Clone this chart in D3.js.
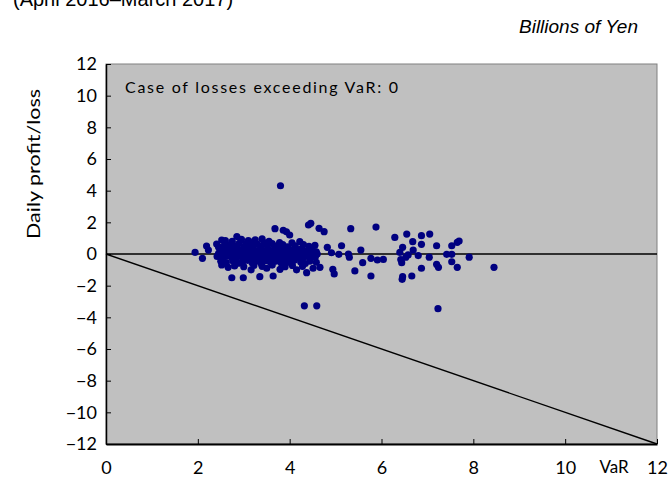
<!DOCTYPE html>
<html>
<head>
<meta charset="utf-8">
<script src="https://cdn.jsdelivr.net/npm/d3@7"></script>
<style>
  html, body { margin: 0; padding: 0; background: #ffffff; }
  svg { display: block; }
</style>
</head>
<body>
<svg id="chart" width="669" height="477"></svg>
<script>
// ---- data ----
const titleText = "(April 2016\u2013March 2017)";
const unitText = "Billions of Yen";
const yAxisLabel = "Daily profit/loss";
const xAxisLabel = "VaR";
const noteText = "Case of losses exceeding VaR: 0";
const xTicks = [0, 2, 4, 6, 8, 10, 12];
const yTicks = [-12, -10, -8, -6, -4, -2, 0, 2, 4, 6, 8, 10, 12];

// sparse / outlying observations [VaR, daily P/L]
const sparsePoints = [
  [1.94,0.10],[2.10,-0.27],[2.19,0.50],[2.23,0.25],[2.41,0.63],[2.52,0.88],[2.85,1.10],
  [3.80,4.31],[3.68,1.60],[3.86,1.50],[3.93,1.40],[4.00,1.20],[4.41,1.83],[4.46,1.94],
  [4.64,1.62],[4.75,1.41],[4.22,0.78],[2.74,-1.50],[2.99,-1.50],[3.35,-1.43],[3.64,-1.39],
  [3.16,-1.00],[3.50,-0.90],[3.79,-0.97],[4.15,-1.00],[4.37,-1.18],[4.51,-0.90],
  [2.52,-0.69],[2.66,-0.84],[4.66,-0.84],
  [5.33,1.60],[5.88,1.70],[6.29,1.05],[6.55,1.26],[6.68,0.78],[6.87,1.16],[6.87,0.61],
  [7.05,1.26],[6.46,0.42],[6.69,0.25],[5.13,0.52],[4.82,0.42],[4.91,0.08],[5.07,-0.02],
  [5.28,0.00],[5.30,-0.20],[5.55,0.25],[5.59,-0.55],[5.77,-0.27],[5.91,-0.38],[6.04,-0.34],
  [4.94,-0.97],[4.97,-1.26],[5.42,-1.07],[5.77,-1.39],[6.46,-1.43],[6.66,-1.39],[6.87,-0.90],
  [6.44,-0.55],[6.53,-0.20],[6.58,-0.06],[6.80,-0.10],[7.04,-0.20],[6.40,0.10],[6.42,-0.35],
  [7.20,0.52],[7.53,0.52],[7.65,0.74],[7.69,0.82],[7.42,-0.02],[7.53,-0.02],[7.91,-0.20],
  [7.53,-0.49],[7.20,-0.65],[7.24,-0.84],[7.65,-0.84],[8.45,-0.84],
  [4.32,-3.27],[4.59,-3.27],[7.23,-3.45],[6.45,-1.60]
];

// dense cluster of observations [VaR, daily P/L]
const clusterPoints = [
  [2.60,0.85],[2.75,0.80],[2.95,0.92],[3.10,0.85],[3.25,0.90],[3.40,0.95],[3.55,0.80],[3.20,0.75],[3.45,0.70],[3.05,0.65],
  [2.45,0.45],[2.58,0.55],[2.70,0.60],[2.82,0.52],[2.90,0.68],[3.00,0.45],[3.15,0.55],[3.30,0.62],[3.38,0.48],[3.50,0.58],
  [3.62,0.66],[3.72,0.50],[3.85,0.60],[3.95,0.45],[4.05,0.70],[4.12,0.52],[4.30,0.60],[4.42,0.48],[4.55,0.55],[3.78,0.72],[2.65,0.40],
  [2.48,0.20],[2.55,0.30],[2.62,0.15],[2.72,0.35],[2.80,0.22],[2.88,0.30],[2.96,0.18],[3.04,0.32],[3.12,0.25],[3.20,0.38],
  [3.28,0.20],[3.36,0.30],[3.44,0.15],[3.52,0.35],[3.60,0.22],[3.68,0.30],[3.76,0.18],[3.84,0.36],[3.92,0.24],[4.00,0.30],
  [4.08,0.16],[4.18,0.28],[4.26,0.34],[4.36,0.20],[4.48,0.26],[4.58,0.14],
  [2.45,0.02],[2.58,-0.02],[2.66,0.06],[2.78,0.00],[2.86,0.08],[2.94,-0.04],[3.02,0.05],[3.10,0.00],[3.18,0.08],[3.26,-0.03],
  [3.34,0.04],[3.42,0.00],[3.50,0.07],[3.58,-0.02],[3.66,0.03],[3.74,0.08],[3.82,-0.02],[3.90,0.05],[3.98,0.00],[4.06,0.06],
  [4.14,-0.04],[4.22,0.02],[4.30,0.08],[4.40,-0.02],[4.52,0.04],[4.60,0.00],
  [2.42,-0.15],[2.54,-0.25],[2.64,-0.12],[2.74,-0.22],[2.84,-0.30],[2.92,-0.14],[3.00,-0.24],[3.08,-0.10],[3.16,-0.28],[3.24,-0.16],
  [3.32,-0.22],[3.40,-0.30],[3.48,-0.12],[3.56,-0.20],[3.64,-0.26],[3.72,-0.14],[3.80,-0.22],[3.88,-0.30],[3.96,-0.16],[4.04,-0.25],
  [4.12,-0.12],[4.20,-0.20],[4.28,-0.30],[4.38,-0.15],[4.46,-0.24],[4.56,-0.18],
  [2.50,-0.45],[2.62,-0.55],[2.76,-0.42],[2.88,-0.58],[2.98,-0.48],[3.08,-0.40],[3.18,-0.55],[3.28,-0.45],[3.38,-0.60],[3.46,-0.42],
  [3.58,-0.52],[3.70,-0.45],[3.82,-0.58],[3.92,-0.44],[4.02,-0.55],[4.10,-0.40],[4.24,-0.50],[4.34,-0.60],[4.44,-0.45],[4.58,-0.52],
  [2.80,-0.75],[3.00,-0.80],[3.22,-0.72],[3.40,-0.78],[3.62,-0.70],[3.90,-0.80],[4.06,-0.72],[4.28,-0.78]
];

// ---- layout ----
const svg = d3.select("#chart");
const plotLeft = 106, plotRight = 657, plotTop = 64, plotBottom = 444;

const x = d3.scaleLinear().domain([0, 12]).range([plotLeft, plotRight]);
const y = d3.scaleLinear().domain([-12, 12]).range([plotBottom, plotTop]);

// plot area
svg.append("rect")
  .attr("x", plotLeft).attr("y", plotTop)
  .attr("width", plotRight - plotLeft).attr("height", plotBottom - plotTop)
  .attr("fill", "#c0c0c0")
  .attr("stroke", "#808080").attr("stroke-width", 1);

// reference lines
svg.append("line")
  .attr("x1", x(0)).attr("x2", x(12)).attr("y1", y(0)).attr("y2", y(0))
  .attr("stroke", "#000").attr("stroke-width", 1.4);
svg.append("line")
  .attr("x1", x(0)).attr("x2", x(12)).attr("y1", y(0)).attr("y2", y(-12))
  .attr("stroke", "#000").attr("stroke-width", 1.4);

// points
const allPoints = sparsePoints.concat(clusterPoints);
svg.append("g").selectAll("circle")
  .data(allPoints)
  .join("circle")
  .attr("cx", d => x(d[0]))
  .attr("cy", d => y(d[1]))
  .attr("r", 3.6)
  .attr("fill", "#000080");

// axes
const fontFam = "Lato, 'Open Sans', sans-serif";
const yAxis = d3.axisLeft(y).tickValues(yTicks).tickFormat(d3.format("d"))
  .tickSizeInner(-5).tickSizeOuter(0).tickPadding(9);
const gy = svg.append("g").attr("transform", `translate(${plotLeft},0)`).call(yAxis);
gy.select(".domain").attr("stroke", "#000").attr("stroke-width", 1.5);
gy.selectAll(".tick line").attr("stroke", "#000");
gy.selectAll("text").attr("font-family", fontFam).attr("font-size", 18).attr("fill", "#000");

const xAxis = d3.axisBottom(x).tickValues(xTicks).tickFormat(d3.format("d"))
  .tickSizeInner(-5).tickSizeOuter(0).tickPadding(17);
const gx = svg.append("g").attr("transform", `translate(0,${plotBottom})`).call(xAxis);
gx.select(".domain").attr("stroke", "#000").attr("stroke-width", 2.2);
gx.selectAll(".tick line").attr("stroke", "#000");
gx.selectAll("text").attr("font-family", fontFam).attr("font-size", 18).attr("fill", "#000");

// texts
svg.append("text")
  .attr("x", 13).attr("y", 6)
  .attr("font-family", "Arial, 'Liberation Sans', sans-serif")
  .attr("font-size", 20).attr("fill", "#000")
  .text(titleText);

svg.append("text")
  .attr("x", 638).attr("y", 33)
  .attr("text-anchor", "end")
  .attr("font-family", "Arial, 'Liberation Sans', sans-serif")
  .attr("font-style", "italic")
  .attr("font-size", 19).attr("fill", "#000")
  .text(unitText);

svg.append("text")
  .attr("x", 614).attr("y", 473)
  .attr("text-anchor", "middle")
  .attr("font-family", fontFam)
  .attr("font-size", 17).attr("fill", "#000")
  .text(xAxisLabel);

svg.append("text")
  .attr("transform", "translate(40,164) rotate(-90)")
  .attr("text-anchor", "middle")
  .attr("font-family", fontFam)
  .attr("font-size", 17).attr("fill", "#000")
  .attr("textLength", 150).attr("lengthAdjust", "spacingAndGlyphs")
  .text(yAxisLabel);

svg.append("text")
  .attr("x", 125).attr("y", 93)
  .attr("font-family", fontFam)
  .attr("font-size", 16).attr("fill", "#000")
  .attr("textLength", 273).attr("lengthAdjust", "spacing")
  .text(noteText);
</script>
</body>
</html>
